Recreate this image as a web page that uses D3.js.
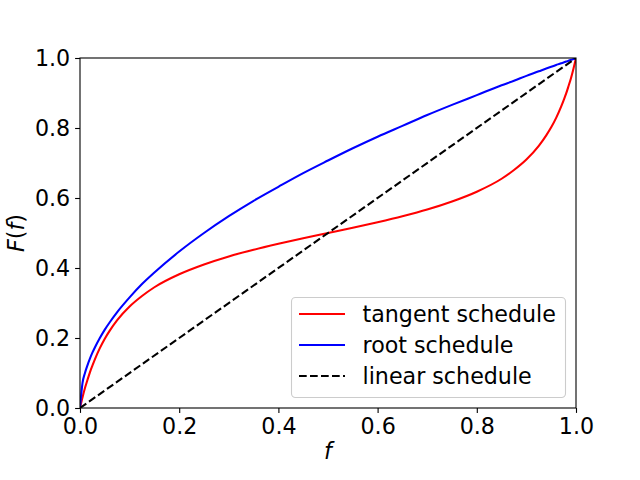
<!DOCTYPE html>
<html>
<head>
<meta charset="utf-8">
<script src="https://d3js.org/d3.v7.min.js"></script>
<style>
  body { margin: 0; background: #fff; }
  text { font-family: "DejaVu Sans", sans-serif; }
</style>
</head>
<body>
<div id="chart"></div>
<script>
// values
const fs = [0, 0.005, 0.01, 0.015, 0.02, 0.025, 0.03, 0.04, 0.05, 0.06, 0.075, 0.1, 0.125, 0.15, 0.2, 0.25, 0.3, 0.35, 0.4, 0.45, 0.5,
            0.55, 0.6, 0.65, 0.7, 0.75, 0.8, 0.85, 0.875, 0.9, 0.925, 0.94, 0.95, 0.96, 0.97, 0.975, 0.98, 0.985, 0.99, 0.995, 1];
const tangent = [0, 0.03, 0.057, 0.08, 0.102, 0.121, 0.139, 0.171, 0.198, 0.221, 0.251, 0.29, 0.32, 0.345, 0.382, 0.41, 0.433, 0.452, 0.469, 0.485, 0.5,
                 0.515, 0.531, 0.548, 0.567, 0.59, 0.618, 0.655, 0.68, 0.71, 0.749, 0.779, 0.802, 0.829, 0.861, 0.879, 0.898, 0.92, 0.943, 0.97, 1];
const root = [0, 0.071, 0.1, 0.122, 0.141, 0.158, 0.173, 0.2, 0.224, 0.245, 0.274, 0.316, 0.354, 0.387, 0.447, 0.5, 0.548, 0.592, 0.632, 0.671, 0.707,
              0.742, 0.775, 0.806, 0.837, 0.866, 0.894, 0.922, 0.935, 0.949, 0.962, 0.97, 0.975, 0.98, 0.985, 0.987, 0.99, 0.992, 0.995, 0.997, 1];
const linearF = [0, 1];
const linear = [0, 1];
const ticks = [0, 0.2, 0.4, 0.6, 0.8, 1.0];

const series = [
  { name: "tangent schedule", xs: fs, ys: tangent, color: "#ff0000", dash: null },
  { name: "root schedule", xs: fs, ys: root, color: "#0000ff", dash: null },
  { name: "linear schedule", xs: linearF, ys: linear, color: "#000000", dash: "7.7,3.3" }
];

const width = 640, height = 480;
const margin = { top: 58, right: 64, bottom: 72, left: 80 };
const fontSize = 22.2;

const svg = d3.select("#chart").append("svg")
  .attr("width", width)
  .attr("height", height);

const x = d3.scaleLinear().domain([0, 1]).range([margin.left, width - margin.right]);
const y = d3.scaleLinear().domain([0, 1]).range([height - margin.bottom, margin.top]);

// clip to axes area
svg.append("defs").append("clipPath").attr("id", "clip")
  .append("rect")
  .attr("x", margin.left).attr("y", margin.top)
  .attr("width", x(1) - x(0)).attr("height", y(0) - y(1));

const line = d3.line()
  .x(d => x(d[0]))
  .y(d => y(d[1]))
  .curve(d3.curveMonotoneX);

series.forEach(s => {
  svg.append("path")
    .datum(s.xs.map((v, i) => [v, s.ys[i]]))
    .attr("clip-path", "url(#clip)")
    .attr("d", line)
    .attr("fill", "none")
    .attr("stroke", s.color)
    .attr("stroke-width", 2.08)
    .attr("stroke-dasharray", s.dash);
});

// axes
const xAxis = svg.append("g")
  .attr("transform", `translate(0,${y(0)})`)
  .call(d3.axisBottom(x).tickValues(ticks).tickFormat(d3.format(".1f")).tickSize(4.9).tickPadding(4.9));
const yAxis = svg.append("g")
  .attr("transform", `translate(${x(0)},0)`)
  .call(d3.axisLeft(y).tickValues(ticks).tickFormat(d3.format(".1f")).tickSize(4.9).tickPadding(4.9));

[xAxis, yAxis].forEach(g => {
  g.select(".domain").remove();
  g.selectAll(".tick line").attr("stroke", "#000").attr("stroke-width", 1.1);
  g.selectAll(".tick text")
    .attr("fill", "#000")
    .attr("font-size", fontSize)
    .attr("font-family", "DejaVu Sans");
});

// frame
svg.append("rect")
  .attr("x", x(0)).attr("y", y(1))
  .attr("width", x(1) - x(0)).attr("height", y(0) - y(1))
  .attr("fill", "none")
  .attr("stroke", "#000")
  .attr("stroke-width", 1.1);

// axis labels
svg.append("text")
  .attr("x", (x(0) + x(1)) / 2)
  .attr("y", 459)
  .attr("text-anchor", "middle")
  .attr("font-size", fontSize)
  .attr("font-style", "italic")
  .text("f");

const yl = svg.append("text")
  .attr("transform", `translate(24,${(y(0) + y(1)) / 2}) rotate(-90)`)
  .attr("text-anchor", "middle")
  .attr("font-size", fontSize);
yl.append("tspan").attr("font-style", "italic").text("F");
yl.append("tspan").text("(");
yl.append("tspan").attr("font-style", "italic").text("f");
yl.append("tspan").text(")");

// legend
const legend = svg.append("g");
legend.append("rect")
  .attr("x", 291.5).attr("y", 297.5)
  .attr("width", 274).attr("height", 100)
  .attr("rx", 4)
  .attr("fill", "#fff")
  .attr("fill-opacity", 0.8)
  .attr("stroke", "#cccccc")
  .attr("stroke-width", 1.1);

series.forEach((s, i) => {
  const ly = 314 + i * 31;
  legend.append("line")
    .attr("x1", 299).attr("x2", 345)
    .attr("y1", ly).attr("y2", ly)
    .attr("stroke", s.color)
    .attr("stroke-width", 2.08)
    .attr("stroke-dasharray", s.dash);
  legend.append("text")
    .attr("x", 362.5)
    .attr("y", ly + 8)
    .attr("font-size", fontSize)
    .text(s.name);
});
</script>
</body>
</html>
